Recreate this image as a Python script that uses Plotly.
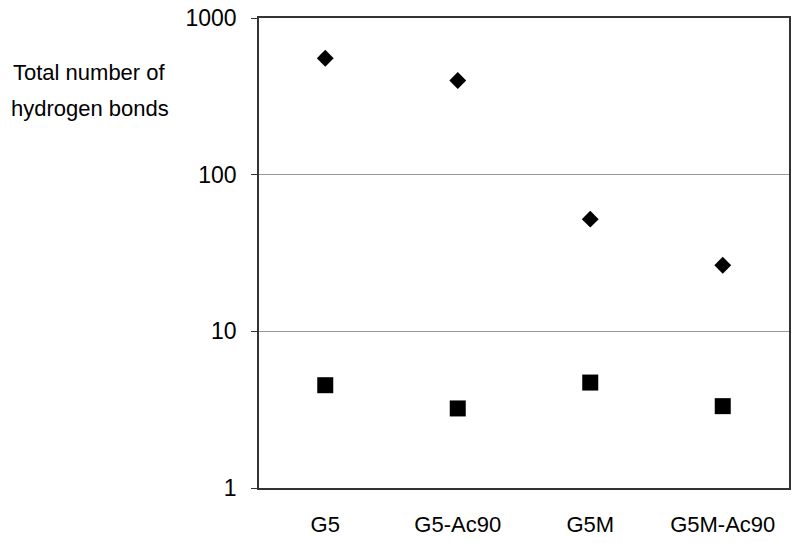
"""Nombre total de liaisons hydrogène par dendrimère (échelle log)."""

import plotly.graph_objects as go

# Données
categories = ["G5", "G5-Ac90", "G5M", "G5M-Ac90"]
total_hbonds = [554, 399, 52, 26.4]  # losanges
other_hbonds = [4.53, 3.22, 4.71, 3.33]  # carrés
y_tickvals = [1, 10, 100, 1000]
y_ticktext = ["1", "10", "100", "1000"]
y_title_lines = ["Total number of", "hydrogen bonds"]

TEXT_COLOR = "#000000"
FONT = "Liberation Sans, Arial, sans-serif"

fig = go.Figure()

fig.add_trace(go.Scatter(
    x=categories,
    y=total_hbonds,
    mode="markers",
    marker={"symbol": "diamond", "size": 13, "color": "black"},
    showlegend=False,
))
fig.add_trace(go.Scatter(
    x=categories,
    y=other_hbonds,
    mode="markers",
    marker={"symbol": "square", "size": 16, "color": "black"},
    showlegend=False,
))

# Titre de l'axe Y horizontal, sur deux lignes espacées
annotations = []
for line, y_pos in zip(y_title_lines, [0.885, 0.8085]):
    annotations.append({
        "text": line,
        "xref": "paper",
        "yref": "paper",
        "x": -0.319,
        "y": y_pos,
        "xanchor": "center",
        "yanchor": "middle",
        "showarrow": False,
        "font": {"size": 22, "color": TEXT_COLOR, "family": FONT},
    })

fig.update_layout(
    width=800,
    height=543,
    plot_bgcolor="white",
    paper_bgcolor="white",
    font={"family": FONT, "size": 22, "color": TEXT_COLOR},
    margin={"l": 259, "r": 11, "t": 18, "b": 55, "autoexpand": False},
    annotations=annotations,
)

fig.update_xaxes(
    type="category",
    range=[-0.5, 3.5],
    showgrid=False,
    showline=True,
    linecolor="#333333",
    linewidth=1.5,
    mirror=True,
    ticks="",
    ticklabelstandoff=16,
    tickfont={"size": 22, "color": TEXT_COLOR},
    zeroline=False,
)
fig.update_yaxes(
    type="log",
    range=[0, 3],
    tickvals=y_tickvals,
    ticktext=y_ticktext,
    showgrid=True,
    gridcolor="#999999",
    gridwidth=1,
    showline=True,
    linecolor="#333333",
    linewidth=1.5,
    mirror=True,
    ticks="outside",
    ticklen=6,
    tickcolor="#333333",
    ticklabelstandoff=10,
    ticklabeloverflow="allow",
    tickfont={"size": 23, "color": TEXT_COLOR},
    zeroline=False,
)

# Supprime la marge par défaut du body pour caler la figure sur la fenêtre
fig.write_html(
    "out.html",
    config={"displayModeBar": False},
    post_script="document.body.style.margin = '0';",
)
